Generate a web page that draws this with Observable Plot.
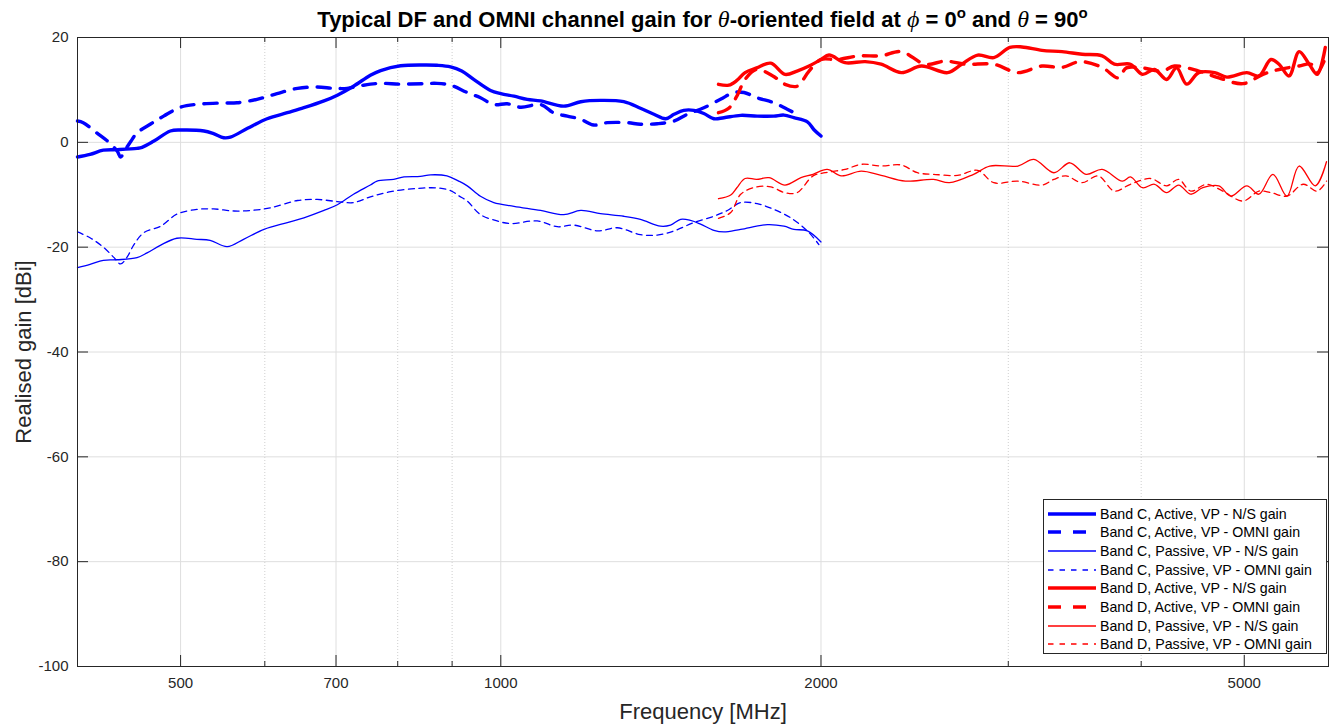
<!DOCTYPE html>
<html><head><meta charset="utf-8">
<script src="https://cdn.jsdelivr.net/npm/d3@7"></script>
<script src="https://cdn.jsdelivr.net/npm/@observablehq/plot@0.6"></script>
<style>
body{margin:0;background:#fff;}
#wrap{position:relative;width:1332px;height:727px;font-family:"Liberation Sans",Arial,sans-serif;}
#chart{position:absolute;left:0;top:0;}
#title{position:absolute;left:77px;width:1251px;top:6px;text-align:center;font-weight:bold;font-size:22px;line-height:26px;color:#000;white-space:nowrap;}
.gr{font-family:"Liberation Serif","DejaVu Serif",serif;font-style:italic;font-weight:normal;font-size:24px;}
sup{font-size:15px;vertical-align:9px;line-height:0;}
#legend{position:absolute;left:1043px;top:499px;width:282px;height:153px;border:1px solid #262626;background:#fff;}
.row{position:absolute;left:0;height:18px;display:flex;align-items:center;font-size:14.2px;color:#000;white-space:nowrap;}
.row svg{margin-left:4px;margin-right:4px;}
</style></head>
<body>
<div id="wrap">
  <div id="chart"></div>
  <div id="title">Typical DF and OMNI channel gain for <span class="gr">θ</span>-oriented field at <span class="gr">ϕ</span> = 0<sup>o</sup> and <span class="gr">θ</span> = 90<sup>o</sup></div>
  <div id="legend"></div>
</div>
<script>
// ---------- data ----------
const xLabels = [500, 700, 1000, 2000, 5000];
const xMinor = [600, 800, 900, 3000, 4000];
const yTicks = [-100, -80, -60, -40, -20, 0, 20];

const seriesNames = [
  "Band C, Active, VP - N/S gain",
  "Band C, Active, VP - OMNI gain",
  "Band C, Passive, VP - N/S gain",
  "Band C, Passive, VP - OMNI gain",
  "Band D, Active, VP - N/S gain",
  "Band D, Active, VP - OMNI gain",
  "Band D, Passive, VP - N/S gain",
  "Band D, Passive, VP - OMNI gain"
];

const cActNsFreq = [400,411,423,436,455,460,472,489,500,526,537,549,557,578,603,630,653,682,702,727,754,771,805,847,871,897,919,943,978,1000,1029,1059,1090,1146,1189,1241,1305,1353,1393,1429,1455,1486,1519,1552,1586,1621,1681,1742,1806,1846,1886,1942,1970,2000];
const cActNsGain = [-2.8,-2.3,-1.5,-1.4,-1.15,-0.96,0.25,2.16,2.35,2.16,1.65,0.88,1.0,2.67,4.5,5.65,6.6,7.9,9.0,10.7,12.8,13.7,14.6,14.75,14.7,14.4,13.6,12.0,9.9,9.3,8.8,8.2,7.9,6.9,7.75,8.0,7.75,6.5,5.35,4.5,5.35,6.1,6.1,5.5,4.5,4.7,5.15,5.0,5.0,5.2,4.7,3.9,2.4,1.2];

const cActOmFreq = [400,405,417,427,436,439,444,449,455,469,482,500,518,545,565,590,616,644,672,697,717,743,771,805,847,871,897,930,957,985,1014,1044,1090,1122,1155,1189,1223,1259,1315,1353,1403,1455,1497,1552,1609,1656,1693,1742,1806,1859,1907];
const cActOmGain = [4.06,3.75,1.8,0.2,-1.7,-2.8,-1.3,0.2,1.8,3.55,5.0,6.7,7.25,7.5,7.55,8.2,9.3,10.3,10.55,10.3,10.3,10.9,11.25,11.1,11.2,11.25,10.9,9.5,8.5,7.2,7.35,6.7,7.2,5.6,5.0,4.4,3.3,3.75,3.75,3.45,3.55,4.06,5.35,6.6,8.2,9.5,9.5,8.5,7.55,6.3,5.2];

const cPasNsFreq = [400,411,423,436,455,465,479,496,518,533,553,573,599,630,653,682,702,727,754,765,793,811,840,859,890,913,930,957,985,1029,1090,1146,1189,1241,1305,1353,1413,1444,1476,1508,1541,1586,1621,1681,1781,1846,1886,1942,2000];
const cPasNsGain = [-23.9,-23.3,-22.5,-22.4,-22.0,-21.1,-19.6,-18.3,-18.5,-18.7,-19.9,-18.5,-16.6,-15.3,-14.4,-13.0,-11.9,-9.9,-8.15,-7.4,-7.07,-6.6,-6.5,-6.2,-6.4,-7.4,-8.3,-10.3,-11.5,-12.2,-13.0,-13.8,-13.0,-13.6,-14.1,-14.7,-16.0,-15.8,-14.7,-14.9,-15.6,-16.8,-17.1,-16.6,-15.7,-16.0,-16.6,-16.9,-19.0];

const cPasOmFreq = [400,411,423,433,439,445,452,462,479,496,518,537,561,582,607,644,672,702,727,754,788,834,871,897,913,930,957,992,1021,1082,1130,1172,1233,1287,1353,1403,1455,1519,1586,1633,1681,1742,1806,1873,1942,1991];
const cPasOmGain = [-17.1,-18.2,-20.0,-22.0,-23.2,-22.0,-19.5,-17.2,-16.0,-13.7,-12.8,-12.7,-13.1,-13.0,-12.5,-11.1,-10.9,-11.3,-11.5,-10.4,-9.4,-8.8,-8.7,-9.2,-10.2,-11.2,-13.8,-15.0,-15.5,-15.0,-16.1,-15.8,-16.9,-16.3,-17.6,-17.7,-16.9,-15.3,-14.1,-13.0,-11.5,-11.7,-12.8,-14.4,-16.9,-19.5];

const dActNsFreq = [1602,1638,1667,1697,1740,1794,1850,1899,1949,2000,2035,2107,2201,2278,2380,2486,2631,2712,2808,2907,3010,3090,3227,3370,3520,3676,3774,3908,4011,4117,4226,4319,4414,4531,4690,4814,5028,5161,5297,5391,5509,5630,5754,5855,5958];
const dActNsGain = [11.07,10.9,11.8,13.3,14.2,15.1,12.97,13.6,14.56,15.8,16.65,15.2,15.4,14.9,13.3,14.56,13.3,14.9,16.65,16.15,18.1,18.2,17.55,17.3,16.8,16.5,14.9,14.9,12.97,13.9,12.0,14.2,11.1,13.3,13.3,12.45,13.3,12.67,15.8,14.9,12.67,17.3,14.9,12.97,18.1];

const dActOmFreq = [1602,1638,1667,1697,1740,1802,1850,1899,1949,2000,2071,2173,2278,2380,2507,2619,2737,2907,3063,3227,3370,3505,3676,3807,3874,4011,4189,4299,4531,4732,4986,5206,5391,5630,5778,5855,5984];
const dActOmGain = [5.65,6.5,8.8,12.0,13.9,12.67,11.07,10.7,13.6,15.8,15.8,16.5,16.5,17.3,14.9,15.5,14.9,14.9,13.3,14.56,14.3,15.4,14.3,12.3,14.2,14.2,13.6,14.56,13.6,12.3,11.2,12.97,13.9,14.56,14.9,13.3,17.0];

const dPasNsFreq = [1602,1645,1667,1697,1740,1787,1850,1915,1966,2027,2090,2182,2278,2401,2551,2641,2783,2882,3063,3171,3311,3428,3550,3676,3840,3908,4011,4117,4226,4338,4453,4571,4732,4856,5028,5161,5320,5484,5630,5830,5974];
const dPasNsGain = [-10.76,-10.06,-8.66,-6.9,-7.07,-6.75,-8.15,-6.75,-6.1,-5.16,-6.4,-5.5,-6.3,-7.4,-7.07,-7.7,-6.1,-4.52,-4.52,-3.25,-5.8,-3.9,-6.1,-5.16,-7.4,-6.6,-8.66,-8.0,-9.6,-8.15,-9.9,-8.66,-8.3,-10.25,-8.3,-9.9,-6.1,-10.25,-4.52,-8.3,-3.7];

const dPasOmFreq = [1602,1645,1681,1740,1794,1850,1899,1966,2018,2107,2182,2278,2380,2464,2551,2688,2808,2907,3063,3227,3311,3399,3520,3645,3774,3908,4081,4226,4338,4453,4611,4772,4986,5161,5297,5484,5679,5855,5974];
const dPasOmGain = [-14.5,-13.4,-9.9,-8.5,-8.5,-9.6,-9.6,-6.4,-5.8,-5.16,-4.2,-4.5,-4.33,-5.8,-6.1,-6.3,-5.35,-7.7,-7.4,-8.15,-7.07,-6.4,-7.7,-6.4,-9.3,-8.0,-6.9,-8.3,-7.07,-9.3,-8.0,-9.3,-11.2,-9.3,-9.6,-10.25,-8.0,-9.3,-7.4];

// ---------- styling (separate from data) ----------
const BLUE = "#0000ff", RED = "#ff0000";
const THICK = 3.4, THIN = 1.3;
const DASH_THICK = "13,10", DASH_THIN = "6,4.5";
const LEG_DASH_THICK = "13,12", LEG_DASH_THIN = "5.5,6";
const seriesData = [
  [cActNsFreq, cActNsGain], [cActOmFreq, cActOmGain], [cPasNsFreq, cPasNsGain], [cPasOmFreq, cPasOmGain],
  [dActNsFreq, dActNsGain], [dActOmFreq, dActOmGain], [dPasNsFreq, dPasNsGain], [dPasOmFreq, dPasOmGain]
];
const styles = seriesNames.map((name, i) => ({
  stroke: i < 4 ? BLUE : RED,
  strokeWidth: (i % 4) < 2 ? THICK : THIN,
  dash: (i % 2) === 1 ? ((i % 4) < 2 ? DASH_THICK : DASH_THIN) : null,
  legDash: (i % 2) === 1 ? ((i % 4) < 2 ? LEG_DASH_THICK : LEG_DASH_THIN) : null
}));

const W = 1332, H = 727, mL = 77, mR = 4, mT = 37, mB = 61;
const frameW = W - mL - mR, frameH = H - mT - mB;
const tickMajor = 11, tickMinor = 5;

const lineMarks = seriesData.map(([fr, gn], i) => {
  const rows = fr.map((f, k) => ({f, g: gn[k]}));
  return Plot.line(rows, {
    x: "f", y: "g", stroke: styles[i].stroke, strokeWidth: styles[i].strokeWidth,
    strokeDasharray: styles[i].dash, curve: "catmull-rom", strokeLinejoin: "round"
  });
});

const chart = Plot.plot({
  width: W, height: H,
  marginLeft: mL, marginRight: mR, marginTop: mT, marginBottom: mB,
  style: {fontFamily: '"Liberation Sans", Arial, sans-serif', fontSize: "15px", color: "#262626", background: "white", overflow: "visible"},
  x: {type: "log", domain: [400, 6000]},
  y: {domain: [-100, 20]},
  marks: [
    Plot.ruleY(yTicks, {stroke: "#dedede", strokeWidth: 1}),
    Plot.ruleX(xLabels, {stroke: "#dedede", strokeWidth: 1}),
    Plot.ruleX(xMinor, {stroke: "#cfcfcf", strokeWidth: 1, strokeDasharray: "1,2"}),
    // inward ticks (bottom / top)
    Plot.ruleX(xLabels, {stroke: "#262626", insetTop: frameH - tickMajor}),
    Plot.ruleX(xLabels, {stroke: "#262626", insetBottom: frameH - tickMajor}),
    Plot.ruleX(xMinor, {stroke: "#262626", insetTop: frameH - tickMinor}),
    Plot.ruleX(xMinor, {stroke: "#262626", insetBottom: frameH - tickMinor}),
    // inward ticks (left / right)
    Plot.ruleY(yTicks, {stroke: "#262626", insetRight: frameW - tickMajor}),
    Plot.ruleY(yTicks, {stroke: "#262626", insetLeft: frameW - tickMajor}),
    ...lineMarks,
    Plot.axisX({ticks: xLabels, tickFormat: d => String(d), tickSize: 0, tickPadding: 11, label: null, fontSize: 15}),
    Plot.axisY({ticks: yTicks, tickFormat: d => String(d), tickSize: 0, tickPadding: 9, label: null, fontSize: 15}),
    Plot.text(["Frequency [MHz]"], {text: d => d, frameAnchor: "bottom", dy: 52, textAnchor: "middle", lineAnchor: "bottom", fontSize: 22, fill: "#262626"}),
    Plot.text(["Realised gain [dBi]"], {text: d => d, frameAnchor: "left", dx: -47, rotate: -90, textAnchor: "middle", lineAnchor: "bottom", fontSize: 22, fill: "#262626"}),
    Plot.frame({stroke: "#262626", strokeWidth: 1})
  ]
});
document.getElementById("chart").appendChild(chart);

// ---------- legend ----------
const legend = document.getElementById("legend");
seriesNames.forEach((name, i) => {
  const row = document.createElement("div");
  row.className = "row";
  row.style.top = (4.5 + 18.7 * i) + "px";
  const s = styles[i];
  row.innerHTML = `<svg width="48" height="18"><line x1="0" x2="48" y1="9" y2="9" stroke="${s.stroke}" stroke-width="${s.strokeWidth}" ${s.legDash ? `stroke-dasharray="${s.legDash}"` : ""}/></svg><span>${name}</span>`;
  legend.appendChild(row);
});
</script>
</body></html>
